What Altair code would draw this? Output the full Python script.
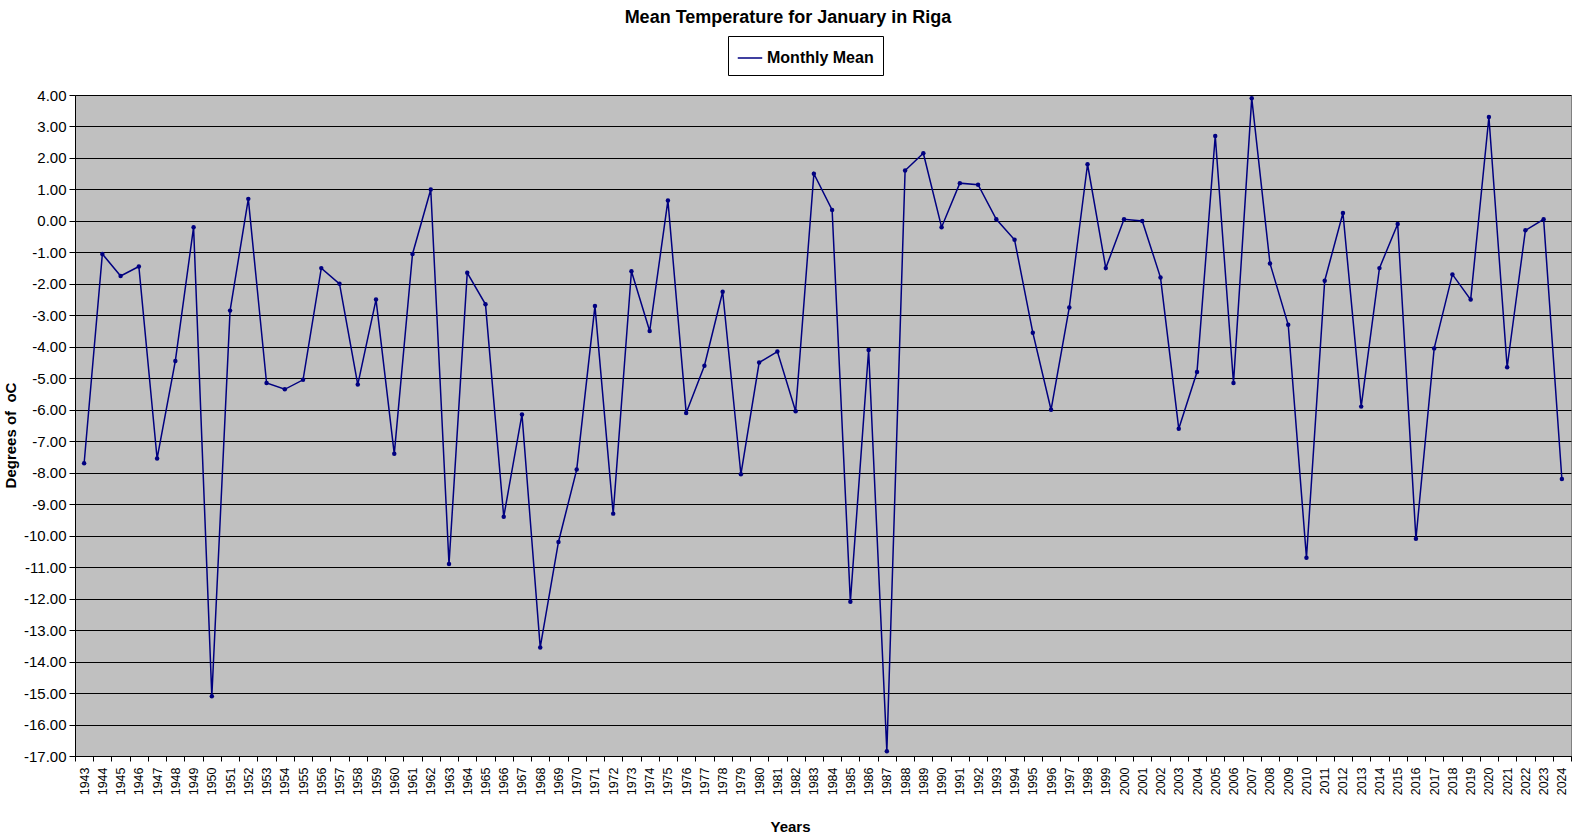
import altair as alt
import pandas as pd

years = list(range(1943, 2025))
temps = [
    -7.7, -1.05, -1.75, -1.45, -7.55, -4.45, -0.2, -15.1, -2.85, 0.7,
    -5.15, -5.35, -5.05, -1.5, -2.0, -5.2, -2.5, -7.4, -1.05, 1.0,
    -10.9, -1.65, -2.65, -9.4, -6.15, -13.55, -10.2, -7.9, -2.7, -9.3,
    -1.6, -3.5, 0.65, -6.1, -4.6, -2.25, -8.05, -4.5, -4.15, -6.05,
    1.5, 0.35, -12.1, -4.1, -16.85, 1.6, 2.15, -0.2, 1.2, 1.15,
    0.05, -0.6, -3.55, -6.0, -2.75, 1.8, -1.5, 0.05, 0.0, -1.8,
    -6.6, -4.8, 2.7, -5.15, 3.9, -1.35, -3.3, -10.7, -1.9, 0.25,
    -5.9, -1.5, -0.1, -10.1, -4.05, -1.7, -2.5, 3.3, -4.65, -0.3,
    0.05, -8.2,
]
series_name = ["Monthly Mean"]
y_ticks = list(range(-17, 5))

df = pd.DataFrame({"Year": [str(y) for y in years], "Temp": temps,
                   "Series": series_name * len(years)})

FONT = "Liberation Sans"
NAVY = "#000080"

x_enc = alt.X(
    "Year:O",
    sort=None,
    scale=alt.Scale(type="band", paddingInner=0, paddingOuter=0),
    bandPosition=0.5,
    axis=alt.Axis(
        title="Years", titleFont=FONT, titleFontSize=15, titleFontWeight="bold",
        titleColor="black", titleX=715, titleY=70, titleBaseline="middle",
        labelAngle=270, labelFont=FONT, labelFontSize=12.5, labelColor="black",
        labelPadding=6, tickBand="extent", tickSize=5, tickColor="black",
        domainColor="black", grid=False, labelOverlap=False,
    ),
)
y_enc = alt.Y(
    "Temp:Q",
    scale=alt.Scale(domain=[-17, 4], nice=False, zero=False),
    axis=alt.Axis(
        title="Degrees of\u00a0 oC", titleFont=FONT, titleFontSize=15,
        titleFontWeight="bold", titleColor="black", titleAngle=270,
        titleX=-65, titleY=340, titleAlign="center", titleBaseline="middle",
        values=y_ticks,
        labelExpr="(datum.value < 0 ? '-' : '') + format(abs(datum.value), '.2f')",
        labelFont=FONT, labelFontSize=15, labelColor="black", labelPadding=3,
        tickSize=6, tickColor="black", domainColor="black",
        grid=True, gridColor="black", gridWidth=1, gridOpacity=1,
    ),
)
color_enc = alt.Color(
    "Series:N",
    scale=alt.Scale(domain=series_name, range=[NAVY]),
    legend=alt.Legend(
        title=None, orient="none", legendX=653, legendY=-59,
        symbolType="stroke", symbolSize=600, symbolStrokeWidth=1.5,
        labelFont=FONT, labelFontSize=16, labelFontWeight="bold",
        labelColor="black", strokeColor="black", padding=9, labelOffset=4,
        fillColor="white",
    ),
)

base = alt.Chart(df)
line = base.mark_line(strokeWidth=1.5).encode(x=x_enc, y=y_enc, color=color_enc)
pts = base.mark_point(filled=True, size=20, opacity=1).encode(
    x=x_enc, y=y_enc,
    color=alt.Color("Series:N", scale=alt.Scale(domain=series_name, range=[NAVY]), legend=None),
)

chart = (
    alt.layer(line, pts)
    .properties(
        width=1496, height=661,
        view=alt.ViewBackground(fill="#C0C0C0", stroke="#808080", strokeWidth=1),
        title=alt.TitleParams(
            "Mean Temperature for January in Riga", font=FONT, fontSize=18,
            fontWeight="bold", color="black", anchor="middle", dx=-35, offset=9,
        ),
        autosize=alt.AutoSizeParams(type="none"),
        padding={"left": 75, "top": 95, "right": 9, "bottom": 81},
    )
    .configure_view(fill="#C0C0C0", stroke="#808080", strokeWidth=1)
    .configure(background="white")
)

chart.save("out.html", embed_options={"renderer": "svg", "actions": False})
